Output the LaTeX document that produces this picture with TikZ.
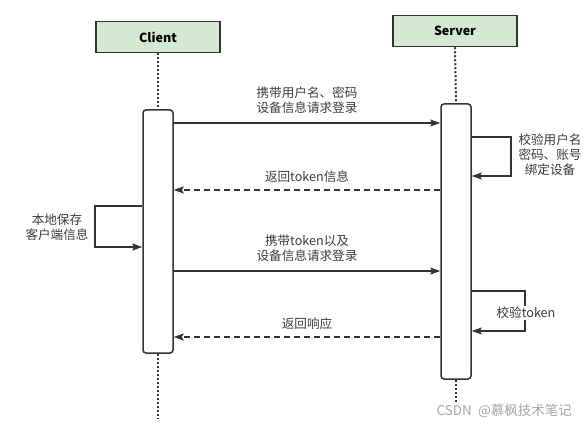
\documentclass[tikz,border=0pt]{standalone}
\usepackage{fontspec}
\setmainfont{Noto Sans CJK SC}
\usetikzlibrary{arrows.meta,calc,positioning}
\definecolor{boxgreen}{HTML}{D5E8D4}
\definecolor{linegray}{HTML}{333333}
\definecolor{textgray}{HTML}{3C3C3C}

\begin{document}
\begin{tikzpicture}[x=1pt, y=-1pt, >={Stealth[length=10pt,width=7pt,inset=2pt]},
    font=\fontsize{12.6}{15}\selectfont,
    actor/.style={draw=linegray, line width=1.5pt, fill=boxgreen, minimum width=124pt, minimum height=31pt, font=\fontsize{12.5}{15}\selectfont\bfseries},
    bar/.style={draw=linegray, line width=1.5pt, fill=white, rounded corners=3pt, minimum width=30pt},
    life/.style={linegray, line width=2pt, dash pattern=on 2pt off 2pt},
    msg/.style={->, linegray, line width=1.5pt},
    reply/.style={msg, dash pattern=on 6pt off 4pt},
    lbl/.style={text=textgray, align=center}]
    \useasboundingbox (0,0) rectangle (587,428);

    % Client and Server blocks
    \node[actor] (client) at (158,37) {Client};
    \node[actor] (server) at (455,31) {Server};

    % Activation bars
    \node[bar, minimum height=243pt] (cbar) at (158,231.5) {};
    \node[bar, minimum height=275pt] (sbar) at (456,241.5) {};

    % Lifelines
    \coordinate (cend) at (158,418);
    \coordinate (send) at (456,418);
    \draw[life] (client.south) -- (cbar.north);
    \draw[life] (cbar.south) -- (cend);
    \draw[life] (server.south) -- (sbar.north);
    \draw[life] (sbar.south) -- (send);

    % Message heights
    \coordinate (m1) at (0,123);
    \coordinate (m2) at (0,190);
    \coordinate (m3) at (0,271);
    \coordinate (m4) at (0,337);

    % Login request
    \draw[msg] (cbar.east |- m1) -- (sbar.west |- m1)
        node[lbl, midway, above=5.5pt] {携带用户名、密码\\设备信息请求登录};

    % Server check of the account
    \coordinate (chk1a) at (511,137);
    \coordinate (chk1b) at (511,176);
    \draw[msg] (sbar.east |- chk1a) -- (chk1a) -- (chk1b) -- (sbar.east |- chk1b);
    \node[lbl] (chk1) at (550,155) {校验用户名\\密码、账号\\绑定设备};

    % Token back to client
    \draw[reply] (sbar.west |- m2) -- (cbar.east |- m2)
        node[lbl, midway, above=3pt] {返回token信息};

    % Client stores its info
    \coordinate (savea) at (95,206);
    \coordinate (saveb) at (95,247);
    \draw[msg] (cbar.west |- savea) -- (savea) -- (saveb) -- (cbar.west |- saveb);
    \node[lbl] (save) at (57,227) {本地保存\\客户端信息};

    % Token login
    \draw[msg] (cbar.east |- m3) -- (sbar.west |- m3)
        node[lbl, midway, above=5.5pt] {携带token以及\\设备信息请求登录};

    % Server check of the token
    \coordinate (chk2a) at (525,291);
    \coordinate (chk2b) at (525,331);
    \draw[msg] (sbar.east |- chk2a) -- (chk2a) -- (chk2b) -- (sbar.east |- chk2b);
    \node[lbl, fill=white, inner sep=1pt] (chk2) at (526,313) {校验token};

    % Watermark over the server lifeline
    \node[text=black!35, fill=white, inner sep=2pt, anchor=east, font=\fontsize{13.5}{15}\selectfont] (mark) at (574,411) {CSDN\ \ @慕枫技术笔记};

    % Response
    \draw[reply] (sbar.west |- m4) -- (cbar.east |- m4)
        node[lbl, midway, above=3pt] {返回响应};
\end{tikzpicture}
\end{document}
